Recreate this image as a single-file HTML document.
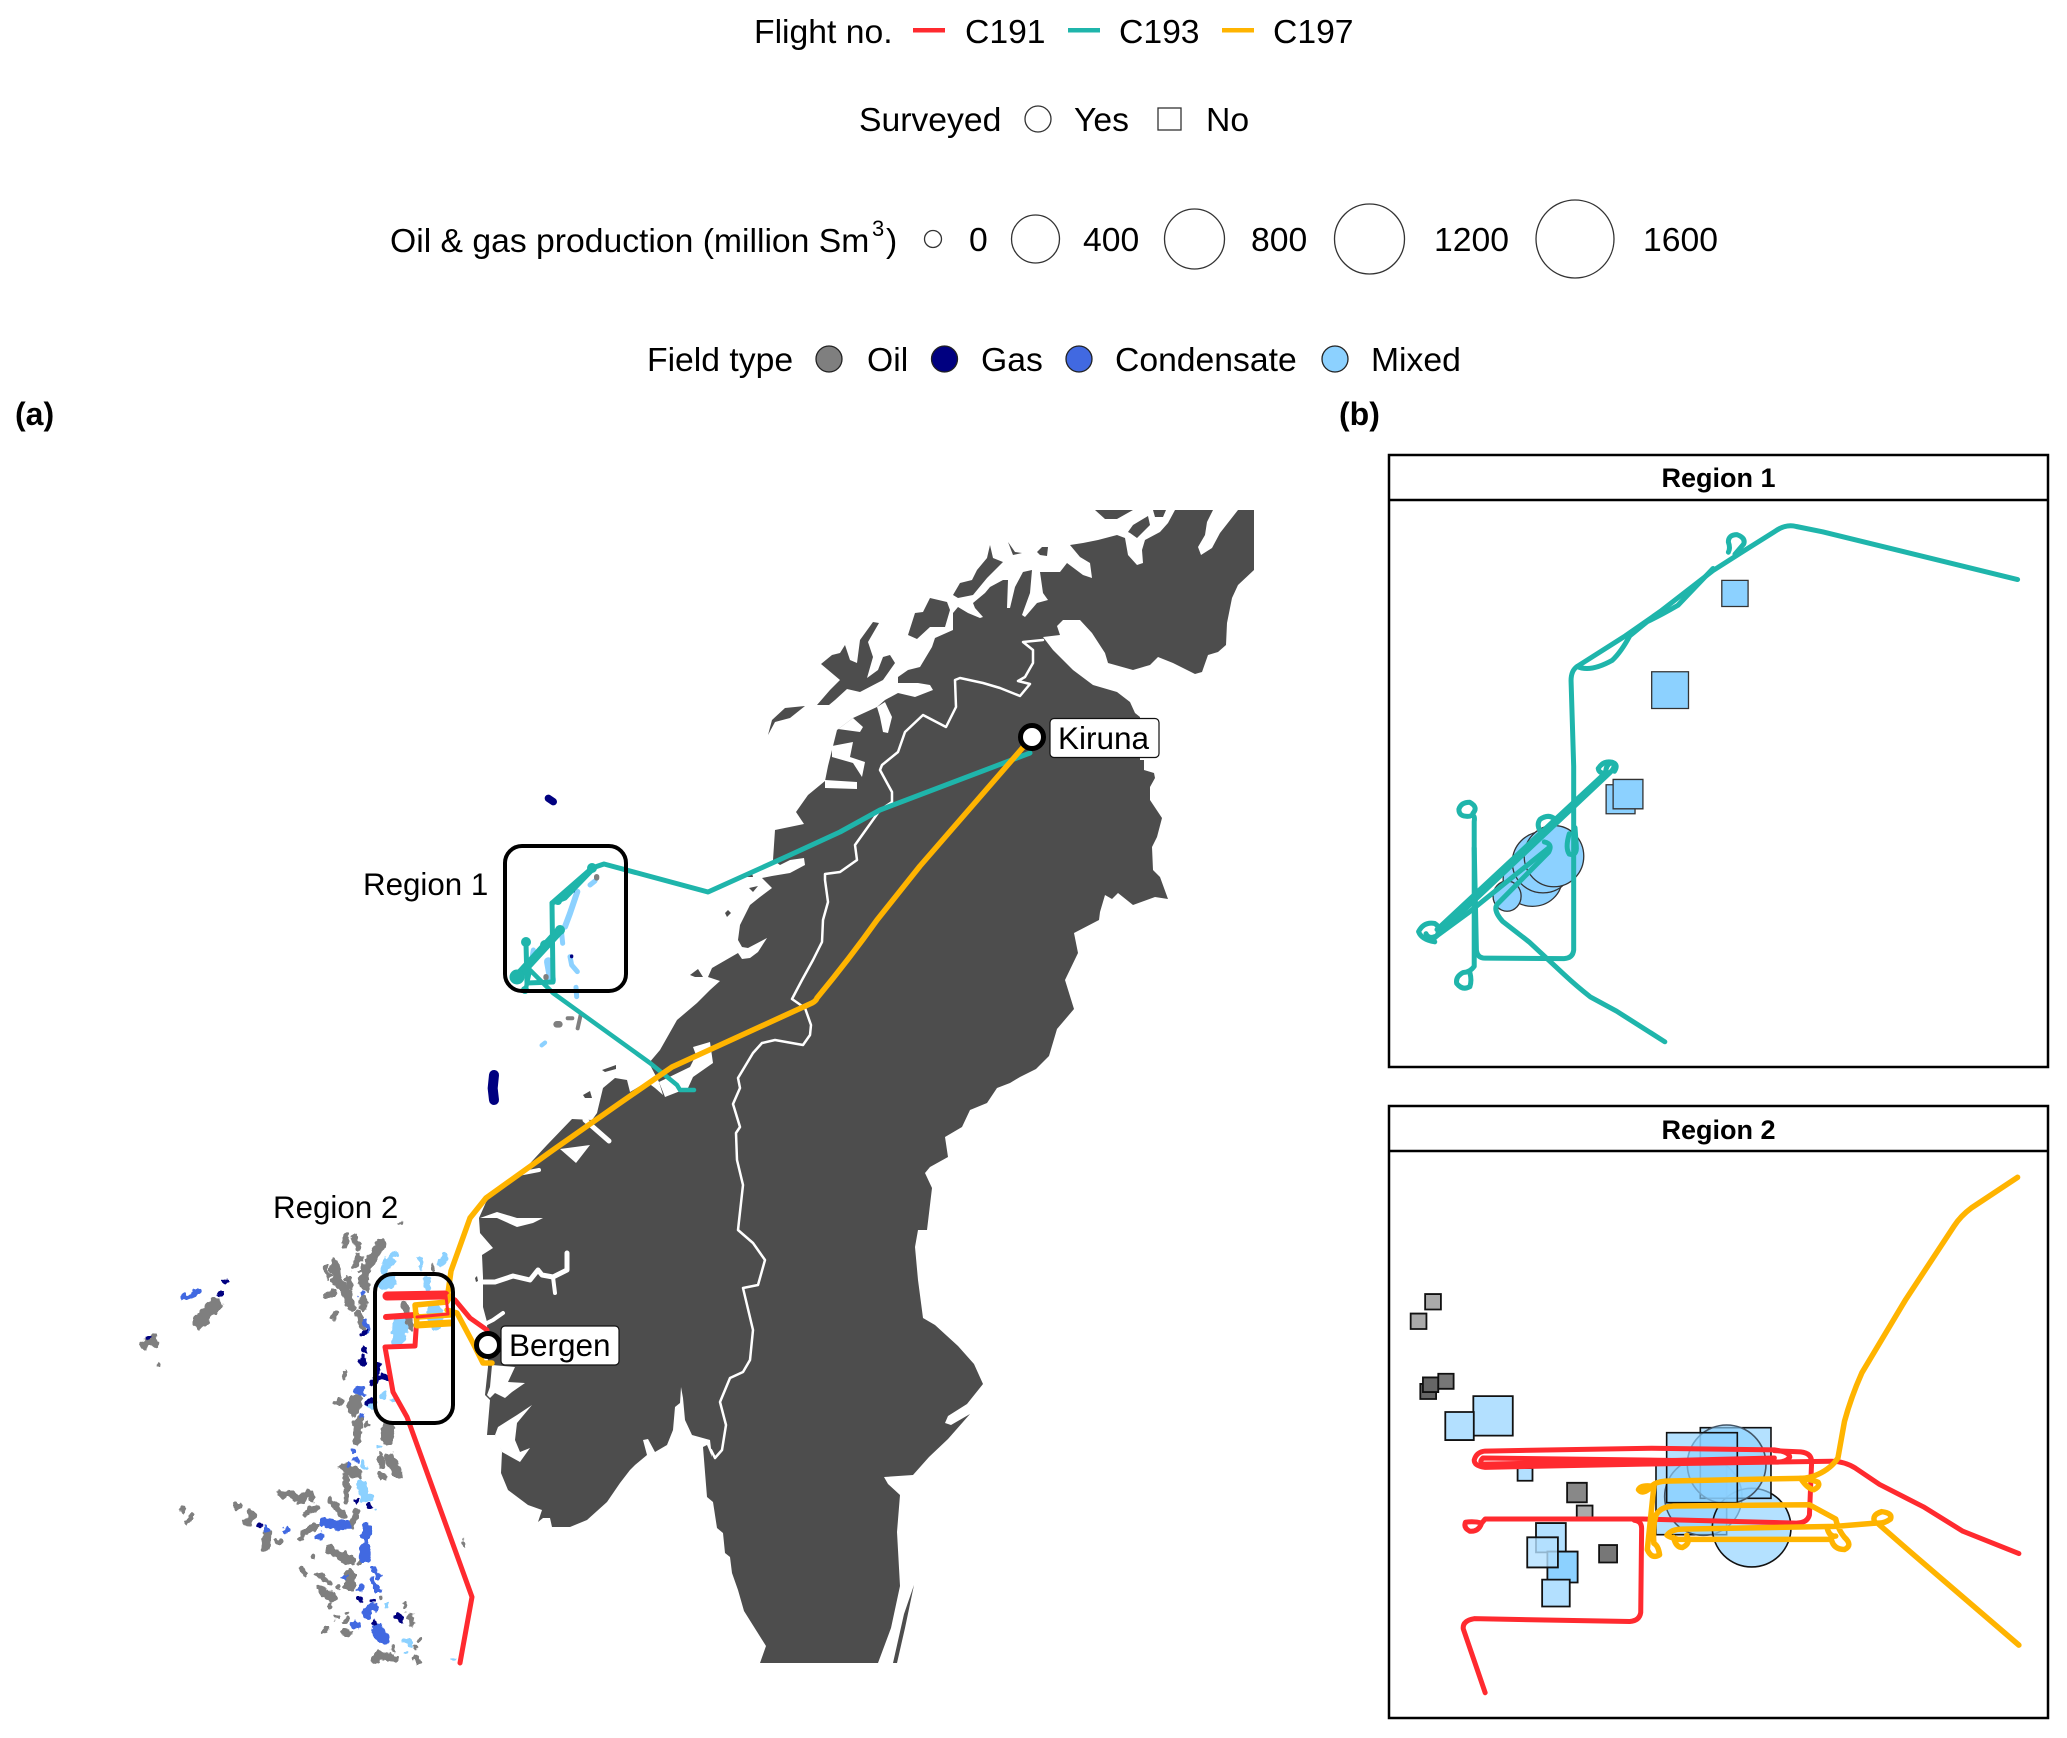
<!DOCTYPE html>
<html><head><meta charset="utf-8">
<style>
html,body{margin:0;padding:0;background:#fff}
svg{display:block}
text{font-family:"Liberation Sans",sans-serif;fill:#000}
.l{font-size:33.7px}
.n *{vector-effect:non-scaling-stroke}
.w{fill:none;stroke:#fff;stroke-linejoin:round;stroke-linecap:round}
.g{fill:none;stroke:#7f7f7f;stroke-linecap:round;stroke-linejoin:round}
.b{fill:none;stroke:#4169e1;stroke-linecap:round;stroke-linejoin:round}
.v{fill:none;stroke:#000080;stroke-linecap:round;stroke-linejoin:round}
.m{fill:none;stroke:#8cd1ff;stroke-linecap:round;stroke-linejoin:round}
</style></head>
<body>
<svg width="2067" height="1738" viewBox="0 0 2067 1738" xmlns="http://www.w3.org/2000/svg">
<defs>
<filter id="rough" filterUnits="userSpaceOnUse" x="-50" y="-50" width="1400" height="1600" color-interpolation-filters="sRGB">
<feTurbulence type="fractalNoise" baseFrequency="0.05" numOctaves="2" seed="4" result="t"/>
<feDisplacementMap in="SourceGraphic" in2="t" scale="26" xChannelSelector="R" yChannelSelector="G"/>
</filter>
</defs>
<rect width="2067" height="1738" fill="#fff"/>

<!-- legends -->
<text class="l" x="754" y="43">Flight no.</text>
<rect x="913" y="28" width="32" height="4.5" fill="#ff2a2f"/>
<text class="l" x="965" y="43">C191</text>
<rect x="1068" y="28" width="32" height="4.5" fill="#1fb5ab"/>
<text class="l" x="1119" y="43">C193</text>
<rect x="1222" y="28" width="32" height="4.5" fill="#ffb400"/>
<text class="l" x="1273" y="43">C197</text>

<text class="l" x="859" y="131">Surveyed</text>
<circle cx="1038" cy="119" r="13" fill="#fff" stroke="#333" stroke-width="1.3"/>
<text class="l" x="1074" y="131">Yes</text>
<rect x="1158" y="108" width="23" height="22" fill="#fff" stroke="#333" stroke-width="1.3"/>
<text class="l" x="1206" y="131">No</text>

<text class="l" x="390" y="252">Oil &amp; gas production (million Sm</text>
<text x="872" y="236" font-size="22">3</text>
<text class="l" x="886" y="252">)</text>
<g fill="#fff" stroke="#333" stroke-width="1.3">
<circle cx="933" cy="239" r="8.5"/>
<circle cx="1035.5" cy="239" r="24"/>
<circle cx="1194.5" cy="239" r="30"/>
<circle cx="1369.5" cy="239" r="35"/>
<circle cx="1575" cy="239" r="39"/>
</g>
<text class="l" x="969" y="251">0</text>
<text class="l" x="1083" y="251">400</text>
<text class="l" x="1251" y="251">800</text>
<text class="l" x="1434" y="251">1200</text>
<text class="l" x="1643" y="251">1600</text>

<text class="l" x="647" y="371">Field type</text>
<g stroke="#222" stroke-width="1.3">
<circle cx="829" cy="359" r="13" fill="#7f7f7f"/>
<circle cx="944.5" cy="359" r="13" fill="#000080"/>
<circle cx="1079" cy="359" r="13" fill="#4169e1"/>
<circle cx="1335" cy="359" r="13" fill="#8cd1ff"/>
</g>
<text class="l" x="867" y="371">Oil</text>
<text class="l" x="981" y="371">Gas</text>
<text class="l" x="1115" y="371">Condensate</text>
<text class="l" x="1371" y="371">Mixed</text>

<text x="15" y="425" font-size="32" font-weight="bold">(a)</text>
<text x="1339" y="425" font-size="32" font-weight="bold">(b)</text>

<!-- land -->
<g fill="#4d4d4d">
<polygon points="500,1190 522,1172 547,1145 572,1119 592,1120 597,1113 603,1088 615,1078 627,1080 630,1092 647,1082 655,1088 663,1095 659,1082 649,1063 660,1050 677,1020 697,1003 710,990 720,981 708,977 712,968 738,953 742,959 750,958 758,952 767,938 748,948 742,947 738,940 740,925 750,905 760,897 772,888 762,878 772,876 790,873 805,865 804,858 790,860 780,865 773,860 775,830 804,824 796,812 808,795 825,781 828,766 837,730 853,718 877,707 885,700 898,693 915,697 933,690 930,685 918,683 898,683 898,677 908,670 920,667 932,647 935,638 953,630 953,613 958,607 968,613 980,618 983,617 975,608 973,603 985,593 990,587 1003,580 1008,580 1007,608 1010,608 1015,587 1023,572 1032,570 1030,593 1022,615 1025,617 1037,603 1048,600 1043,593 1040,572 1060,572 1067,563 1083,575 1092,578 1090,563 1080,557 1070,545 1083,543 1098,540 1117,535 1125,538 1128,555 1137,565 1143,563 1142,550 1145,540 1160,532 1168,523 1175,510 1213,510 1207,522 1205,535 1198,547 1201,555 1212,548 1220,533 1238,510 1254,510 1254,570 1238,585 1232,598 1227,623 1226,645 1218,652 1208,655 1202,672 1195,674 1187,670 1173,663 1158,657 1150,665 1133,670 1108,663 1105,653 1092,633 1080,620 1063,620 1057,626 1060,635 1043,637 1053,650 1073,670 1093,685 1117,692 1130,702 1135,713 1140,717 1140,760 1144,760 1144,770 1154,773 1155,778 1150,787 1150,800 1162,818 1157,837 1152,847 1153,870 1160,877 1168,899 1155,897 1133,905 1118,893 1112,899 1105,895 1100,912 1099,920 1074,933 1078,953 1065,980 1074,1009 1057,1029 1049,1056 1036,1069 1020,1077 1010,1083 997,1088 987,1103 970,1110 962,1127 945,1137 948,1157 930,1167 925,1173 932,1188 927,1230 918,1230 915,1247 918,1280 923,1318 935,1325 958,1346 974,1364 983,1384 967,1404 948,1416 945,1423 951,1425 970,1414 948,1439 929,1457 913,1475 884,1477 888,1484 900,1495 897,1532 900,1586 891,1628 878,1663 760,1663 766,1646 744,1611 738,1590 732,1573 730,1557 725,1553 723,1533 717,1528 713,1502 707,1497 703,1447 707,1445 712,1457 710,1440 692,1435 685,1420 683,1398 681,1387 680,1403 675,1407 673,1430 667,1445 655,1452 648,1439 643,1440 647,1455 635,1465 630,1470 620,1483 607,1502 587,1520 570,1527 552,1527 550,1518 543,1518 538,1522 542,1510 528,1505 508,1490 501,1473 502,1452 499,1443 495,1435 487,1435 490,1400 485,1395 488,1367 487,1322 483,1307 483,1277 482,1255 493,1248 480,1233 479,1218 487,1200"/>
<polygon points="840,653 845,645 850,660 857,663 860,640 873,622 879,623 868,642 873,657 867,678 878,670 883,657 890,655 895,663 883,680 860,692 847,689 835,700 829,705 817,705 830,690 840,680 821,664 832,655"/>
<polygon points="768,735 772,720 785,708 805,706 790,718 775,722"/>
<polygon points="908,635 915,613 923,612 930,598 947,602 950,610 945,627 930,627 917,639"/>
<polygon points="953,595 960,583 972,580 977,570 987,558 990,545 993,558 1003,562 987,578 973,595 958,598"/>
<polygon points="1008,542 1015,552 1022,553 1013,555"/>
<polygon points="1037,552 1042,547 1048,547 1047,556 1040,555"/>
<polygon points="1128,532 1133,525 1148,516 1150,525 1137,538 1130,533"/>
<polygon points="1095,510 1133,510 1117,519 1105,519"/>
<polygon points="1153,510 1166,510 1163,517 1155,517"/>
<polygon points="583,1095 590,1091 592,1098 585,1098"/>
<polygon points="602,1070 616,1065 616,1069 605,1072"/>
<polygon points="690,975 698,969 703,977 695,977"/>
<polygon points="725,913 728,910 731,913 727,917"/>
<polygon points="747,877 752,873 753,877"/>
<polygon points="749,888 758,886 753,892"/>
<polygon points="475,1278 477,1276 478,1281 476,1282"/>
<polygon points="893,1663 897,1663 905,1628 914,1585 904,1614"/>
</g>
<!-- fjords -->
<g fill="#fff">
<polygon points="825,780 857,782 857,789 825,788"/>
<polygon points="832,746 853,742 850,757 865,762 862,777 853,763 832,757"/>
<polygon points="837,730 853,718 863,727 860,732 838,729"/>
<polygon points="877,707 885,702 892,717 888,733 883,732 880,717"/>
<polygon points="693,1047 710,1042 713,1063 693,1077 688,1088 665,1097 659,1082 690,1067 696,1055"/>
<polygon points="560,1149 590,1145 576,1163"/>
<polygon points="480,1218 497,1212 517,1218 543,1218 533,1223 517,1227 497,1218"/>
<polygon points="492,1365 515,1367 508,1382 525,1383 512,1392 505,1398 495,1393 490,1398 487,1395 490,1387"/>
<polygon points="532,1405 517,1423 515,1440 520,1452 530,1448 520,1462 502,1452 495,1435 498,1427 517,1415"/>
</g>
<g class="w">
<polyline stroke-width="5" points="585,1120 609,1141"/>
<polyline stroke-width="4" points="518,1174 539,1170"/>
<polyline stroke-width="5" points="482,1282 495,1282 513,1276 530,1280 538,1270 542,1275 553,1277 567,1270 567,1253"/>
<polyline stroke-width="4" points="553,1277 555,1293"/>
<polyline stroke-width="4" points="487,1323 493,1320 503,1313"/>
<polyline stroke-width="2.5" points="1043,640 1023,642 1033,650 1033,663 1025,677 1018,681 1030,684 1020,696 1000,688 983,683 960,678 955,680 956,707 946,727 923,715 905,732 898,752 882,765 880,770 892,792 892,802 880,810 855,845 857,860 840,872 825,874 825,880 828,902 823,920 822,942 813,960 802,980 792,999 805,1008 811,1025 810,1035 803,1045 775,1040 762,1043 753,1053 738,1078 740,1088 733,1104 740,1127 736,1133 737,1160 743,1185 738,1230 753,1243 765,1260 758,1285 743,1288 753,1330 750,1360 743,1372 730,1378 720,1402 726,1425 722,1450 715,1458 711,1450"/>
</g>

<!-- fields, Z6 coordinates -->
<g transform="translate(120,1200) scale(.3333)"><g filter="url(#rough)">
<g class="g">
<path stroke-width="20" d="M680 105L675 135M705 115L715 145M720 170L700 200M620 205L625 230M680 235L690 260M640 275L625 285M645 345L640 350M715 340L725 380"/>
<path stroke-width="30" d="M785 130L745 190L730 240L735 260"/>
<path stroke-width="28" d="M645 185L650 240L680 280L695 320"/>
<path stroke-width="24" d="M730 300L730 320"/>
<path stroke-width="42" d="M285 315L240 365"/>
<path stroke-width="24" d="M72 435L100 412L105 430"/>
<path stroke-width="16" d="M113 495h2M187 928h1"/>
<path stroke-width="13" d="M220 945L200 970M675 520L672 535"/>
<path stroke-width="20" d="M652 607h10"/>
<path stroke-width="40" d="M710 605L698 625"/>
<path stroke-width="26" d="M715 660L710 722"/>
<path stroke-width="18" d="M740 673h1"/>
<path stroke-width="38" d="M805 685L800 715"/>
<path stroke-width="24" d="M780 770L783 790M780 822L790 832"/>
<path stroke-width="34" d="M810 775L830 820"/>
<path stroke-width="20" d="M680 810L680 905"/>
<path stroke-width="28" d="M670 803L715 822"/>
<path stroke-width="24" d="M480 880L515 885L540 900L570 878M570 880L575 895"/>
<path stroke-width="24" d="M352 918h8M395 940L385 968M440 1000L435 1040"/>
<path stroke-width="18" d="M470 1020L475 1025M555 945L590 920M630 905L670 945M710 935L695 975M550 1000L590 975M540 1015h4"/>
<path stroke-width="34" d="M632 1050L688 1080"/>
<path stroke-width="15" d="M715 1085h2M545 1105L560 1125M590 1120L630 1150M580 1070h1M785 1195h1M850 1210L855 1218M630 1215h1M655 1160h1M680 1240h1M650 1255h1M680 1260h1M620 1285L610 1298M672 1300h18"/>
<path stroke-width="36" d="M690 1125L690 1155"/>
<path stroke-width="30" d="M603 1170L640 1195"/>
<path stroke-width="20" d="M870 1245L875 1270"/>
<path stroke-width="24" d="M765 1380L775 1365L820 1375"/>
<path stroke-width="15" d="M885 1375L895 1385M820 1340v10M885 1345h1M900 1320h1"/>
<path stroke-width="9" d="M1030 1025L1030 1045M840 70h4"/>
<path stroke-width="24" d="M855 320L870 385"/>
<path stroke-width="15" d="M935 195L940 210"/>
</g>
<g class="m">
<path stroke-width="24" d="M820 160L795 210"/>
<path stroke-width="42" d="M790 250L810 245"/>
<path stroke-width="15" d="M903 175L905 205"/>
<path stroke-width="24" d="M975 170L965 190"/>
<path stroke-width="20" d="M920 240L925 265"/>
<path stroke-width="44" d="M840 375L835 415"/>
<path stroke-width="50" d="M945 340L948 365"/>
<path stroke-width="28" d="M750 610h6"/>
<path stroke-width="15" d="M790 580v10M820 600h2"/>
<path stroke-width="12" d="M780 740v4"/>
<path stroke-width="18" d="M730 790v6"/>
<path stroke-width="30" d="M725 850L735 895"/>
<path stroke-width="20" d="M750 890v8"/>
<path stroke-width="9" d="M765 925h2M857 1358h1M998 1378h1"/>
<path stroke-width="15" d="M745 990v8"/>
<path stroke-width="12" d="M800 1218h1M855 1320L875 1335"/>
</g>
<g class="b">
<path stroke-width="18" d="M190 295L235 275"/>
<path stroke-width="28" d="M612 968L678 975"/>
<path stroke-width="20" d="M440 988h2M500 990h2M595 1010h4"/>
<path stroke-width="24" d="M740 985L738 1015"/>
<path stroke-width="34" d="M735 1042L735 1072"/>
<path stroke-width="15" d="M762 1105L775 1130"/>
<path stroke-width="18" d="M755 1140L775 1170M720 1165h2M672 1133h1"/>
<path stroke-width="24" d="M740 1245L745 1230L765 1220"/>
<path stroke-width="24" d="M703 1275h8"/>
<path stroke-width="34" d="M770 1290L795 1320"/>
<path stroke-width="30" d="M716 572h4"/>
<path stroke-width="15" d="M735 360L745 390M700 755h1M723 647h3M727 283h1M686 795h1"/>
<path stroke-width="20" d="M708 780h1"/>
</g>
<g class="v">
<path stroke-width="14" d="M310 246h8M300 280v6M85 415h1"/>
<path stroke-width="20" d="M732 398h4M735 452h1M728 478v6"/>
<path stroke-width="17" d="M775 490L765 550M765 530L800 535M755 600L745 610"/>
<path stroke-width="15" d="M420 978h2M708 900v5M748 918h1M720 1197h2M755 1202h1M765 1265v6"/>
<path stroke-width="20" d="M830 1245L840 1255"/>
</g>
</g></g>

<!-- fields near region 1, Z10 coordinates -->
<g transform="translate(490,780) scale(.3333)">
<path class="v" stroke-width="22" d="M175 55L190 65"/>
<path class="v" stroke-width="30" d="M12 885L8 925L12 960"/>
<g class="m">
<path stroke-width="18" d="M262 335L240 400L225 440"/>
<path stroke-width="15" d="M300 315L315 303M240 530L245 555L262 575M258 622L260 650M130 510L125 540M215 460L218 490"/>
<path stroke-width="26" d="M175 545L185 600"/>
<path stroke-width="13" d="M155 796L165 788"/>
</g>
<path class="g" stroke-width="16" d="M320 290v4M168 590v3"/>
<path class="g" stroke-width="20" d="M200 733h8"/>
<path class="g" stroke-width="12" d="M233 715h14M272 705L263 745"/>
<path class="v" stroke-width="10" d="M205 445v10M245 528v2M248 333h2"/>
</g>

<!-- flights on map -->
<g fill="none" stroke-linecap="round" stroke-linejoin="round">
<polyline stroke="#1fb5ab" stroke-width="5" points="1030,753 880,810 840,832 790,855 708,892 604,864 592,868 552,903 553,982 527,983 526,943"/>
<polyline stroke="#1fb5ab" stroke-width="9" points="517,977 560,930"/>
<polyline stroke="#1fb5ab" stroke-width="4.5" points="526,988 527,983 530,970 553,993 650,1063 677,1085 680,1090 694,1090"/>
<polyline stroke="#1fb5ab" stroke-width="5" points="552,903 565,898 592,870"/>
<g fill="#1fb5ab" stroke="none">
<circle cx="517" cy="977" r="7.5"/><circle cx="526" cy="942" r="5"/><circle cx="545" cy="945" r="5"/><circle cx="560" cy="930" r="5"/><circle cx="592" cy="868" r="5"/><circle cx="525" cy="990" r="4"/><circle cx="558" cy="901" r="4"/>
</g>
<path stroke="#ffb400" stroke-width="5.5" d="M1032 737L920 866L877 920Q850 958 817 998Q816 1001 812 1003L672 1067L620 1103L553 1150L486 1198L470 1218L451 1271L447 1300"/>
<polyline stroke="#ffb400" stroke-width="5.5" points="447,1310 457,1313 473,1343 483,1363 492,1363"/>
<polyline stroke="#ff2a2f" stroke-width="5" points="445,1295 455,1300 470,1318 487,1330"/>
<polyline stroke="#ff2a2f" stroke-width="9" points="387,1296 445,1295"/>
<polyline stroke="#ff2a2f" stroke-width="6" points="386,1317 415,1315"/>
<polyline stroke="#ff2a2f" stroke-width="5" points="417,1315 415,1346 385,1347 393,1392 407,1417 472,1597 460,1663"/>
<polyline stroke="#ffb400" stroke-width="5.5" points="417,1325 415,1305 447,1302 450,1296"/>
<polyline stroke="#ffb400" stroke-width="5.5" points="417,1317 450,1315"/>
<polyline stroke="#ffb400" stroke-width="7" points="417,1325 450,1323"/>
<polyline stroke="#ff2a2f" stroke-width="3" points="417,1317 448,1314 446,1296"/>
</g>

<!-- region boxes -->
<rect x="505" y="846" width="121" height="145" rx="17" fill="none" stroke="#000" stroke-width="4"/>
<rect x="375" y="1274" width="78" height="149" rx="18" fill="none" stroke="#000" stroke-width="4"/>
<text x="363" y="895" font-size="31.3">Region 1</text>
<text x="273" y="1218" font-size="31.3">Region 2</text>

<!-- city markers -->
<circle cx="1032" cy="737" r="11.5" fill="#fff" stroke="#000" stroke-width="5"/>
<rect x="1050" y="718.5" width="109" height="39" rx="4" fill="#fff" stroke="#111" stroke-width="1.2"/>
<text x="1058" y="749" font-size="31.5">Kiruna</text>
<circle cx="488" cy="1345" r="11.5" fill="#fff" stroke="#000" stroke-width="5"/>
<rect x="501" y="1326" width="118" height="39" rx="4" fill="#fff" stroke="#111" stroke-width="1.2"/>
<text x="509" y="1356" font-size="31.5">Bergen</text>

<!-- panel 1 -->
<rect x="1389" y="455" width="659" height="612" fill="#fff" stroke="#000" stroke-width="2.5"/>
<line x1="1389" y1="500" x2="2048" y2="500" stroke="#000" stroke-width="2.5"/>
<text x="1718.5" y="487" font-size="27" font-weight="bold" text-anchor="middle">Region 1</text>
<g class="n" transform="translate(1380,440) scale(.4382,.408)">
<g fill="#8cd1ff" stroke="#333" stroke-width="1.3">
<rect x="780" y="344" width="60" height="64"/>
<rect x="620" y="568" width="84" height="90"/>
<rect x="516" y="845" width="66" height="71"/>
<rect x="532" y="832" width="68" height="72"/>
<ellipse cx="348" cy="1077" rx="67" ry="66"/>
<ellipse cx="372" cy="1035" rx="70" ry="75"/>
<ellipse cx="397" cy="1020" rx="68" ry="75"/>
<ellipse cx="290" cy="1118" rx="32" ry="37"/>
</g>
<g fill="none" stroke="#1fb5ab" stroke-width="5" stroke-linejoin="round" stroke-linecap="round">
<path d="M1455 342L1200 275L1010 225L950 212Q925 205 900 225L830 272L760 320L700 370L640 420L560 480L450 555Q436 565 436 590L442 800V1250Q440 1270 420 1271L240 1270Q222 1270 220 1250L215 1000V935Q218 915 205 922Q180 925 180 905Q185 888 205 888Q225 900 212 915"/>
<path d="M650 1475L540 1400L480 1365Q450 1340 420 1310L340 1230L280 1180Q255 1150 270 1135L385 1010Q395 990 375 985"/>
<path d="M120 1225L525 815Q540 800 530 790Q510 785 498 805Q500 820 520 815"/>
<path d="M130 1200L515 815Q515 795 530 790Q545 795 535 812"/>
<path d="M125 1230Q95 1225 88 1205Q100 1180 125 1185Q140 1195 130 1215Q110 1225 105 1210"/>
<path d="M130 1215L200 1160L385 1000"/>
<path d="M795 275Q800 265 795 250Q795 232 815 232Q835 240 830 255L810 280"/>
<path d="M450 555Q480 570 530 540Q550 520 570 480L610 445Q640 430 680 405L760 315"/>
<path d="M215 1000L215 1290Q205 1305 190 1305Q172 1315 175 1332Q188 1350 205 1340Q210 1325 205 1305"/>
<path d="M370 965Q355 945 365 930Q385 915 400 930L380 960"/>
<path d="M432 965Q422 1000 432 1015Q450 1020 448 995L445 950"/>
</g>
</g>

<!-- panel 2 -->
<rect x="1389" y="1106" width="659" height="612" fill="#fff" stroke="#000" stroke-width="2.5"/>
<line x1="1389" y1="1151" x2="2048" y2="1151" stroke="#000" stroke-width="2.5"/>
<text x="1718.5" y="1139" font-size="27" font-weight="bold" text-anchor="middle">Region 2</text>
<g class="n" transform="translate(1380,1100) scale(.4382,.4068)">
<g stroke="#111" stroke-width="1.8">
<rect x="103" y="477" width="36" height="38" fill="#aaa"/>
<rect x="70" y="525" width="36" height="38" fill="#aaa"/>
<rect x="92" y="698" width="36" height="37" fill="#666"/>
<rect x="98" y="682" width="35" height="36" fill="#666"/>
<rect x="133" y="673" width="35" height="37" fill="#777"/>
<rect x="213" y="728" width="90" height="97" fill="#b3e0ff"/>
<rect x="149" y="767" width="65" height="69" fill="#b3e0ff"/>
<rect x="314" y="905" width="34" height="31" fill="#b3e0ff"/>
<rect x="427" y="941" width="45" height="48" fill="#888"/>
<rect x="449" y="997" width="36" height="36" fill="#aaa"/>
<rect x="500" y="1094" width="41" height="43" fill="#777"/>
<rect x="356" y="1040" width="68" height="72" fill="#b3e0ff"/>
<rect x="382" y="1110" width="69" height="76" fill="#8cd1ff"/>
<rect x="336" y="1075" width="70" height="74" fill="#b3e0ff" fill-opacity=".8"/>
<rect x="370" y="1179" width="63" height="66" fill="#b3e0ff"/>
</g>
</g>
<g class="n" transform="translate(1560,1400) scale(.3333)">
<g fill="#8cd1ff" fill-opacity=".65" stroke="#111" stroke-width="1.6">
<rect x="288" y="190" width="212" height="214"/>
<circle cx="430" cy="290" r="116" stroke="#456"/>
<circle cx="575" cy="383" r="118"/>
<rect x="421" y="83" width="212" height="212"/>
<circle cx="500" cy="193" r="118" stroke="#456"/>
<rect x="320" y="98" width="212" height="210"/>
</g>
</g>
<g class="n" transform="translate(1380,1100) scale(.4382,.4068)" fill="none" stroke-linejoin="round" stroke-linecap="round">
<path stroke="#ff2a2f" stroke-width="5" d="M1458 1115L1330 1060L1240 1000L1140 945L1085 905Q1060 888 1030 888L600 895L240 903Q215 900 215 885Q220 865 240 863L620 856L900 860Q935 865 935 878Q925 892 900 890L600 885L235 880Q225 890 235 895L600 888L900 880"/>
<path stroke="#ff2a2f" stroke-width="5" d="M900 862L960 865Q985 868 985 890L980 1020Q975 1040 950 1040L600 1030L240 1030L232 1040Q225 1062 205 1060Q190 1052 195 1038Q215 1035 232 1040"/>
<path stroke="#ff2a2f" stroke-width="5" d="M580 1033Q598 1035 597 1055L595 1260Q592 1280 570 1282L215 1275Q188 1280 190 1300L240 1457"/>
<path stroke="#ffb400" stroke-width="5.5" d="M1455 190L1350 265Q1325 285 1310 310L1200 490L1100 670Q1075 730 1060 790L1045 880Q1030 905 1000 920Q980 930 960 930L650 937Q625 940 620 950Q600 972 590 958Q595 945 625 950L610 1105Q620 1130 638 1118Q635 1095 625 1090Q622 1050 630 1020Q640 1000 670 998L980 995L1040 1030Q1045 1055 1060 1075Q1080 1095 1060 1105Q1035 1105 1030 1080L680 1080Q660 1075 655 1070Q665 1055 690 1055L1040 1048L1130 1040"/>
<path stroke="#ffb400" stroke-width="5.5" d="M1130 1040Q1120 1020 1145 1012Q1170 1015 1165 1030Q1150 1042 1135 1040L1220 1120L1458 1340"/>
<path stroke="#ffb400" stroke-width="5.5" d="M960 930Q975 955 990 958Q1005 950 1000 940Q985 932 965 932"/>
<path stroke="#ffb400" stroke-width="5.5" d="M670 1075Q675 1100 690 1100Q710 1090 700 1070M1020 1050Q1025 1075 1040 1072"/>
</g>
</svg>
</body></html>
